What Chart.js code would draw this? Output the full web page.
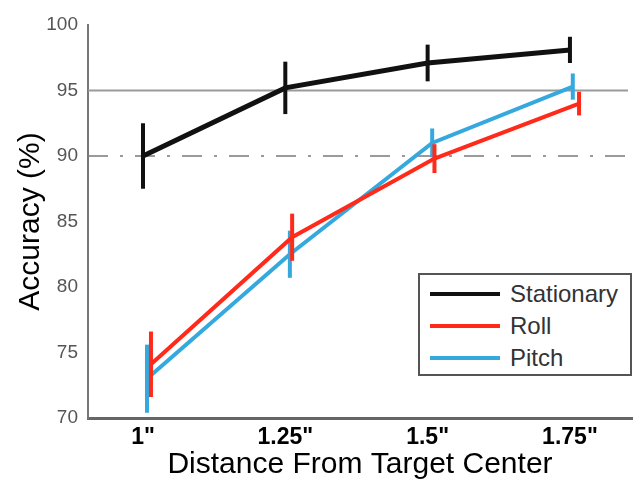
<!DOCTYPE html>
<html>
<head>
<meta charset="utf-8">
<script src="https://cdn.jsdelivr.net/npm/chart.js@4.4.1/dist/chart.umd.min.js"></script>
<style>
    body { margin: 0; background: #fff; }
    #wrap { position: relative; width: 635px; height: 480px; }
    #legend {
        position: absolute; left: 418px; top: 273px; width: 210px; height: 99px;
        border: 2px solid #555; background: #fff;
        font-family: "Liberation Sans", Arial, sans-serif; font-size: 24px; color: #333;
    }
    #legend .row { position: absolute; left: 0; height: 30px; line-height: 30px; }
    #legend .swatch { position: absolute; left: 10px; top: 13px; width: 70px; height: 4px; }
    #legend .label { position: absolute; left: 90px; top: 0; white-space: nowrap; }
</style>
</head>
<body>
<div id="wrap">
    <canvas id="chart" width="635" height="480"></canvas>
    <div id="legend"></div>
</div>
<script>
// x positions (inches) and tick labels
const distances = [1, 1.25, 1.5, 1.75];
const tickLabels = ['1"', '1.25"', '1.5"', '1.75"'];

// series (accuracy %)
const stationaryX = [1, 1.25, 1.5, 1.75];
const stationary = [90.0, 95.2, 97.1, 98.1];
const stationaryErr = [2.5, 2.0, 1.4, 1.0];

const rollX = [1.014, 1.262, 1.512, 1.766];
const roll = [74.1, 83.8, 89.8, 94.0];
const rollErr = [2.5, 1.8, 1.1, 0.9];

const pitchX = [1.007, 1.258, 1.508, 1.755];
const pitch = [73.0, 82.5, 91.0, 95.3];
const pitchErr = [2.6, 1.8, 1.1, 1.0];

const seriesNames = ['Stationary', 'Roll', 'Pitch'];
const seriesColors = ['#111111', '#ff2a1a', '#35a9de'];

const refSolid = 95;
const refDashDot = 90;

const errors = { Stationary: stationaryErr, Roll: rollErr, Pitch: pitchErr };

function toPoints(xs, ys) {
    return xs.map((x, i) => ({ x, y: ys[i] }));
}

/* =============================
   PLUGINS
============================= */
const refLines = {
    id: 'refLines',
    beforeDatasetsDraw(chart) {
        const { ctx, chartArea, scales: { y } } = chart;
        ctx.save();
        ctx.strokeStyle = '#9a9a9a';
        ctx.lineWidth = 2;
        let py = y.getPixelForValue(refSolid);
        ctx.beginPath();
        ctx.moveTo(chartArea.left, py);
        ctx.lineTo(chartArea.right - 4, py);
        ctx.stroke();

        ctx.strokeStyle = '#7a7a7a';
        ctx.lineWidth = 1.5;
        ctx.setLineDash([20, 12, 3, 12]);
        py = y.getPixelForValue(refDashDot);
        ctx.beginPath();
        ctx.moveTo(chartArea.left, py);
        ctx.lineTo(chartArea.right - 4, py);
        ctx.stroke();
        ctx.restore();
    }
};

const errorBars = {
    id: 'errorBars',
    afterDatasetDraw(chart, args) {
        const ds = chart.data.datasets[args.index];
        const err = errors[ds.label];
        if (!err) return;
        const { ctx, chartArea, scales: { x, y } } = chart;
        ctx.save();
        ctx.beginPath();
        ctx.rect(chartArea.left, chartArea.top, chartArea.right - chartArea.left, chartArea.bottom - chartArea.top);
        ctx.clip();
        ctx.strokeStyle = ds.borderColor;
        ctx.lineWidth = 4;
        ds.data.forEach((p, i) => {
            const px = x.getPixelForValue(p.x);
            ctx.beginPath();
            ctx.moveTo(px, y.getPixelForValue(p.y - err[i]));
            ctx.lineTo(px, y.getPixelForValue(p.y + err[i]));
            ctx.stroke();
        });
        ctx.restore();
    }
};

/* =============================
   CHART
============================= */
const FONT = '"Liberation Sans", Arial, sans-serif';

new Chart(document.getElementById('chart'), {
    type: 'line',
    data: {
        datasets: [
            { label: 'Pitch', data: toPoints(pitchX, pitch), borderColor: seriesColors[2], borderWidth: 4, order: 3 },
            { label: 'Roll', data: toPoints(rollX, roll), borderColor: seriesColors[1], borderWidth: 4, order: 2 },
            { label: 'Stationary', data: toPoints(stationaryX, stationary), borderColor: seriesColors[0], borderWidth: 5, order: 1 }
        ]
    },
    options: {
        responsive: false,
        animation: false,
        layout: { padding: { top: 25, right: 3, left: 0, bottom: 0 } },
        elements: { point: { radius: 0 }, line: { tension: 0 } },
        plugins: { legend: { display: false }, tooltip: { enabled: false } },
        scales: {
            x: {
                type: 'linear',
                min: 0.9034,
                max: 1.859,
                grid: { display: false },
                border: { display: true, color: '#666', width: 3 },
                afterBuildTicks: scale => { scale.ticks = distances.map(v => ({ value: v })); },
                afterFit: scale => { scale.height = 62; },
                ticks: {
                    padding: -2,
                    color: '#000',
                    font: { family: FONT, size: 23, weight: 'bold' },
                    callback: (value, i) => tickLabels[i]
                },
                title: {
                    display: true,
                    text: 'Distance From Target Center',
                    color: '#000',
                    padding: { top: -4, bottom: 0 },
                    font: { family: FONT, size: 30, lineHeight: 1 }
                }
            },
            y: {
                min: 70,
                max: 100,
                grid: { display: false },
                border: { display: true, color: '#777', width: 2 },
                afterFit: scale => { scale.width = 88; },
                ticks: {
                    stepSize: 5,
                    padding: 2,
                    color: '#555',
                    font: { family: FONT, size: 19 }
                },
                title: {
                    display: true,
                    text: 'Accuracy (%)',
                    color: '#000',
                    padding: { top: 16, bottom: 0 },
                    font: { family: FONT, size: 30, lineHeight: 1 }
                }
            }
        }
    },
    plugins: [refLines, errorBars]
});

/* =============================
   LEGEND
============================= */
const legendEl = document.getElementById('legend');
seriesNames.forEach((name, i) => {
    const row = document.createElement('div');
    row.className = 'row';
    row.style.top = (4 + i * 32) + 'px';
    row.innerHTML = `<span class="swatch" style="background:${seriesColors[i]}"></span><span class="label">${name}</span>`;
    legendEl.appendChild(row);
});
</script>
</body>
</html>
